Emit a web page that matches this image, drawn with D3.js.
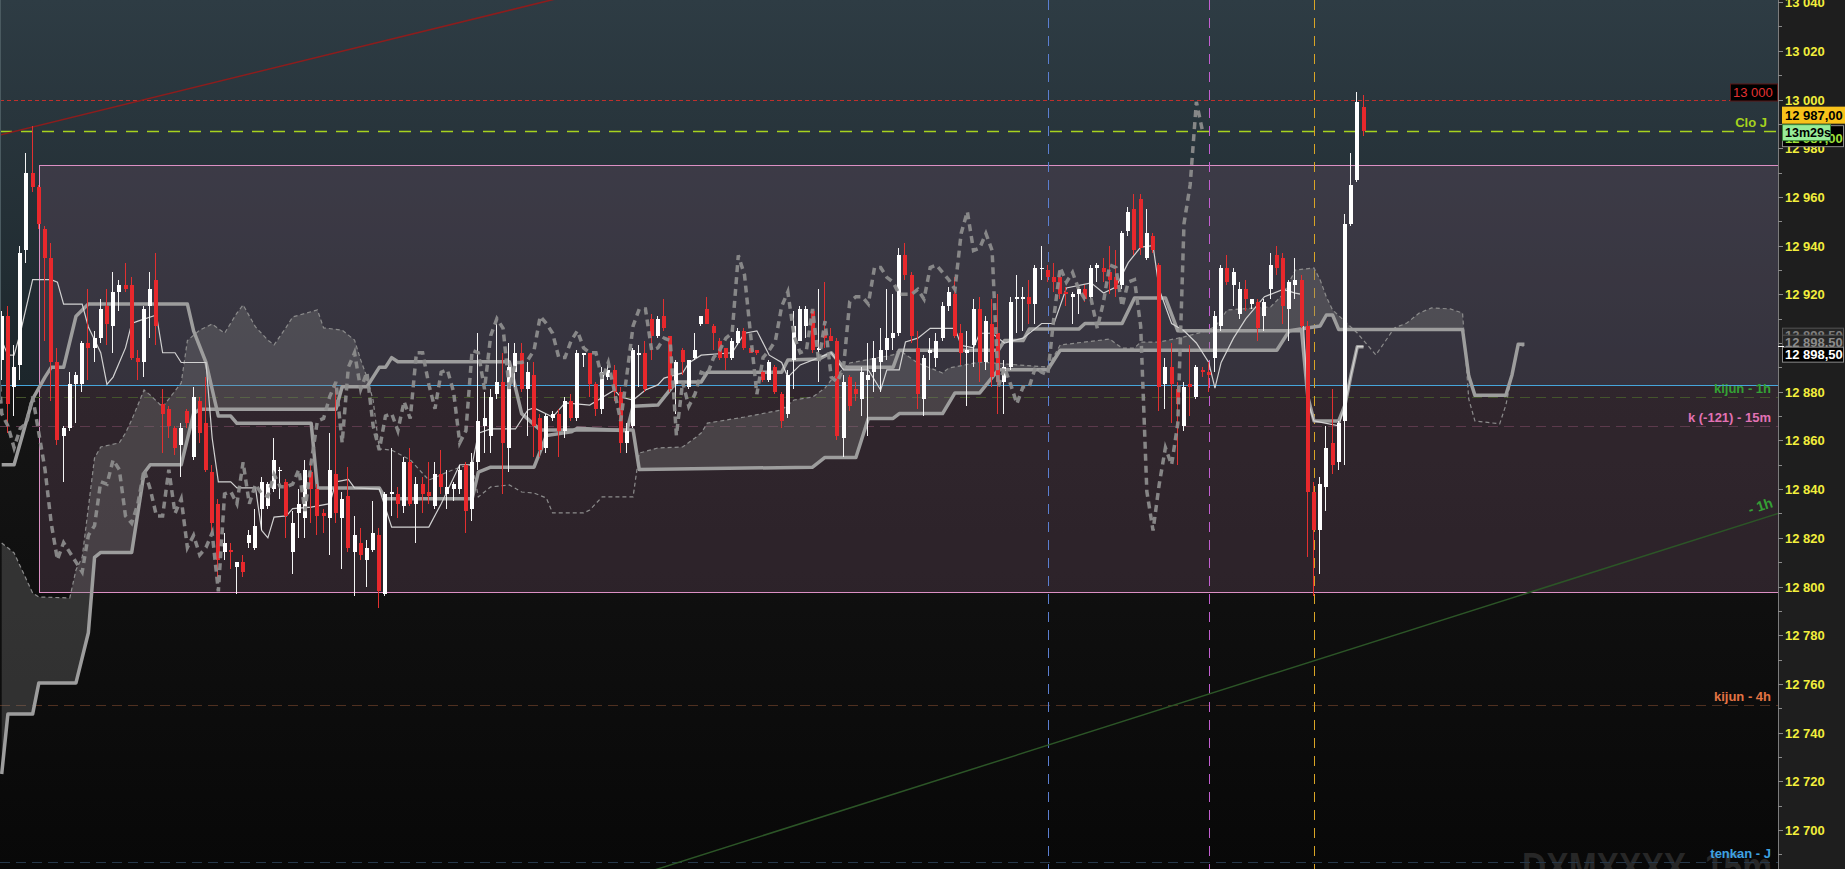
<!DOCTYPE html>
<html><head><meta charset="utf-8">
<script src="https://cdn.jsdelivr.net/npm/d3@7"></script>
<style>
html,body{margin:0;padding:0;background:#0a0a0a;overflow:hidden}
svg{display:block}
text{font-family:"Liberation Sans",Arial,sans-serif}
</style></head><body>
<svg id="c" width="1845" height="869"></svg>
<script>
// ---------------- DATA ----------------
const opens = [
12893,12911,12882,12891,12938,12970,12964,12947,12935,12892,
12862,12865,12883,12883,12900,12898,12902,12915,12907,12921,
12924,12924,12894,12892,12915,12926,12875,12873,12865,12858,
12872,12853,12876,12867,12847,12834,12814,12815,12808,12810,
12818,12816,12832,12833,12840,12848,12843,12814,12830,12828,
12847,12840,12830,12828,12846,12828,12837,12814,12818,12811,
12815,12821,12797,12838,12838,12833,12851,12834,12842,12839,
12833,12846,12838,12840,12840,12850,12832,12851,12866,12862,
12879,12884,12857,12888,12896,12881,12887,12869,12857,12869,
12871,12864,12876,12869,12895,12896,12883,12873,12886,12889,
12880,12859,12866,12895,12896,12910,12903,12911,12903,12883,
12897,12882,12894,12908,12914,12907,12901,12898,12894,12900,
12905,12898,12897,12888,12885,12890,12879,12871,12893,12901,
12907,12913,12897,12905,12903,12901,12861,12886,12881,12877,
12885,12888,12892,12897,12902,12904,12936,12928,12898,12877,
12896,12894,12902,12915,12920,12904,12896,12899,12914,12892,
12908,12904,12884,12890,12918,12918,12919,12916,12931,12930,
12927,12927,12921,12919,12920,12922,12919,12931,12931,12929,
12927,12924,12946,12955,12959,12935,12944,12932,12883,12890,
12881,12866,12883,12878,12889,12888,12894,12907,12931,12924,
12912,12922,12916,12917,12911,12922,12936,12935,12914,12924,
12926,12907,12839,12823,12841,12859,12851,12868,12949,12967,12997];
const highs = [
12913,12915,12899,12940,12978,12989,12965,12948,12941,12898,
12866,12888,12888,12901,12922,12905,12918,12922,12929,12926,
12933,12927,12897,12915,12929,12937,12881,12874,12866,12867,
12873,12882,12878,12886,12850,12836,12822,12818,12810,12813,
12823,12832,12845,12843,12861,12849,12844,12831,12840,12852,
12852,12842,12832,12863,12882,12839,12849,12829,12824,12819,
12835,12824,12839,12857,12841,12853,12857,12845,12845,12851,
12851,12856,12848,12843,12850,12851,12855,12904,12880,12881,
12908,12896,12900,12900,12900,12892,12892,12871,12871,12872,
12873,12878,12879,12897,12896,12896,12884,12890,12891,12891,
12882,12867,12898,12899,12901,12912,12911,12918,12903,12893,
12898,12893,12904,12911,12919,12908,12902,12898,12902,12906,
12906,12898,12897,12889,12893,12891,12880,12889,12913,12915,
12915,12914,12922,12925,12906,12902,12887,12887,12884,12890,
12900,12901,12906,12922,12920,12939,12941,12929,12905,12895,
12902,12904,12917,12923,12927,12908,12905,12918,12919,12911,
12918,12920,12893,12919,12928,12923,12926,12932,12940,12932,
12933,12930,12923,12921,12923,12924,12932,12933,12935,12940,
12938,12946,12956,12961,12961,12955,12945,12933,12894,12900,
12884,12884,12899,12891,12890,12892,12913,12932,12936,12931,
12925,12926,12918,12918,12918,12937,12940,12937,12926,12935,
12928,12909,12843,12845,12866,12881,12868,12953,12978,13003,13002];
const lows = [
12885,12863,12870,12885,12933,12962,12947,12901,12876,12858,
12843,12864,12867,12880,12885,12892,12900,12899,12896,12913,
12921,12893,12885,12886,12902,12899,12855,12861,12854,12845,
12865,12852,12859,12847,12822,12804,12811,12807,12797,12804,
12816,12815,12823,12832,12839,12836,12820,12805,12820,12820,
12826,12821,12822,12813,12826,12807,12814,12796,12811,12800,
12814,12791,12796,12829,12828,12830,12833,12818,12830,12834,
12832,12838,12832,12835,12838,12822,12827,12848,12855,12855,
12877,12838,12847,12882,12880,12862,12853,12853,12855,12868,
12853,12861,12868,12868,12890,12878,12870,12871,12885,12876,
12855,12855,12865,12882,12880,12893,12902,12905,12880,12871,
12887,12881,12893,12907,12908,12897,12893,12889,12893,12899,
12897,12896,12895,12884,12884,12879,12865,12869,12881,12901,
12902,12896,12884,12898,12901,12860,12853,12872,12876,12870,
12862,12880,12880,12893,12897,12903,12926,12900,12873,12870,
12885,12890,12901,12913,12902,12891,12874,12890,12884,12889,
12882,12871,12871,12889,12904,12905,12908,12908,12926,12925,
12921,12918,12915,12908,12912,12917,12918,12925,12925,12920,
12919,12922,12944,12936,12936,12934,12937,12872,12873,12867,
12850,12864,12870,12877,12886,12880,12888,12905,12924,12915,
12910,12913,12914,12901,12905,12918,12928,12908,12901,12918,
12906,12812,12796,12805,12831,12846,12848,12850,12948,12966,12985];
const closes = [
12911,12875,12890,12937,12970,12964,12949,12935,12892,12860,
12865,12883,12887,12900,12898,12902,12914,12908,12921,12924,
12922,12894,12892,12914,12922,12907,12871,12866,12857,12865,
12867,12878,12863,12848,12826,12811,12818,12814,12810,12806,
12821,12825,12843,12842,12852,12848,12829,12826,12834,12848,
12840,12829,12829,12848,12830,12836,12816,12821,12813,12816,
12822,12798,12838,12839,12834,12851,12834,12842,12838,12837,
12846,12841,12841,12842,12848,12831,12851,12868,12869,12878,
12884,12859,12890,12896,12881,12888,12866,12856,12870,12871,
12864,12876,12869,12896,12896,12883,12873,12888,12889,12880,
12859,12864,12897,12896,12881,12903,12910,12906,12881,12892,
12892,12893,12897,12911,12908,12904,12894,12894,12901,12905,
12898,12896,12896,12885,12892,12880,12868,12887,12907,12914,
12914,12897,12898,12902,12901,12862,12884,12874,12879,12888,
12887,12894,12897,12902,12904,12936,12928,12903,12879,12894,
12897,12901,12915,12921,12903,12896,12897,12914,12892,12909,
12886,12884,12890,12917,12919,12919,12916,12931,12931,12927,
12925,12920,12920,12920,12922,12918,12931,12932,12929,12926,
12922,12945,12954,12938,12939,12945,12938,12882,12890,12883,
12875,12882,12882,12890,12888,12887,12911,12931,12925,12929,
12922,12918,12918,12906,12917,12932,12931,12915,12925,12926,
12907,12839,12823,12842,12857,12850,12867,12949,12965,12999,12987];

// Ichimoku lines: [candle index, price]
const tenkanPts = [[0,12901],[1,12895],[2,12895],[3,12904],[5,12926],[8,12926],[9,12925],[10,12916],[13,12916],[14,12906.6],[16,12896],[17,12883],[18,12886],[20,12898],[21,12908],[22,12909],[25,12911.5],[26,12896],[28,12896],[29,12892],[33,12892],[34,12861],[35,12843],[37,12843],[38,12840.5],[41,12840.5],[42,12823],[43,12820],[44,12828.5],[46,12829],[47,12832],[50,12832.6],[53,12834],[54,12843],[56,12844],[57,12840.5],[61,12840],[63,12824.4],[69,12824.4],[71,12834],[74,12850],[76,12850],[77,12863],[79,12864.7],[83,12864.7],[85,12872.5],[86,12873.3],[89,12869.6],[91,12875.4],[95,12874.5],[99,12880.7],[100,12877.8],[102,12876.6],[104,12880.7],[106,12882.8],[107,12885.6],[110,12887.7],[111,12891.8],[113,12895],[118,12896],[120,12904],[122,12905],[124,12895],[126,12892],[127,12886],[129,12891],[132,12894],[134,12896],[136,12889],[140,12889],[142,12880.7],[143,12889],[145,12889],[146,12900.4],[148,12902],[150,12906],[154,12906],[155,12899],[157,12898],[158,12904],[160,12904],[162,12900],[165,12902],[168,12908],[170,12908],[172,12922.6],[176,12924.7],[178,12920.5],[180,12923],[182,12933],[184,12939.4],[186,12940],[187,12922],[189,12908],[191,12905],[193,12900],[195,12892],[196,12881.5],[197,12892],[199,12902],[201,12910],[204,12919],[207,12922],[209,12920.5],[210,12920],[211,12876],[212,12868],[216,12866],[217,12874.5],[218,12887],[219,12898.5],[220,12898.5]];
const kijunPts = [[0,12850],[2,12850],[4,12868],[5,12877],[7,12886],[8,12890],[10,12890],[12,12911],[14,12916],[30,12916],[31,12905],[33,12892],[35,12870],[37,12870],[38,12867],[50,12867],[51,12840.5],[61,12840.5],[62,12836],[76,12836],[77,12847],[79,12849],[86,12849],[88,12862],[92,12863.5],[93,12865],[101,12864],[102,12874],[106,12874.5],[109,12884],[113,12884],[114,12888],[126,12888],[127,12893],[132,12893.4],[134,12896],[136,12890],[144,12890],[145,12897],[161,12897],[162,12901],[165,12901],[166,12905.7],[174,12905.7],[175,12908],[181,12908],[183,12918.5],[188,12918.5],[190,12905],[210,12905],[211,12878],[212,12868],[216,12868],[217,12874.5],[218,12887],[219,12898.5],[220,12898.5]];
const spanAPts = [[0,12817.9],[2,12813.8],[5,12797.3],[6,12795.7],[11,12795.3],[12,12806.8],[13,12812],[15,12852.8],[16,12857.3],[19,12859],[20,12863],[21,12868.4],[23,12880.7],[24,12878.6],[26,12873.7],[29,12883.6],[30,12901],[32,12905.3],[34,12907.8],[36,12904],[38,12912.3],[39,12915.6],[41,12906.6],[43,12901.2],[44,12899.2],[46,12906.6],[47,12910.7],[51,12913.6],[52,12906.2],[55,12905.3],[57,12901.2],[58,12893],[59,12886],[60,12876.5],[61,12856.5],[63,12856],[66,12852],[69,12843.7],[72,12847],[74,12849],[76,12850],[77,12836.8],[79,12840.9],[82,12841.7],[84,12838.8],[86,12838.4],[88,12836.3],[89,12830.2],[94,12830.2],[95,12831.4],[97,12836.8],[102,12836.8],[103,12854.8],[106,12856.9],[110,12857.3],[112,12861],[113,12863],[114,12867.1],[120,12869.6],[126,12872.5],[128,12876.6],[131,12877.8],[133,12881.5],[134,12884.8],[137,12891.8],[144,12895.1],[145,12897.1],[148,12891.8],[152,12887.7],[153,12889.7],[158,12892.2],[169,12890.1],[171,12899.2],[179,12901.6],[181,12897.9],[183,12897.9],[184,12900.4],[187,12900.4],[191,12902.5],[194,12904.5],[196,12906.6],[198,12913.6],[205,12914.8],[207,12920],[209,12930],[212,12930.8],[213,12925.9],[214,12918.9],[215,12913.6],[219,12904.1],[222,12895.1],[225,12906.2],[227,12908.2],[229,12912.3],[231,12914.4],[234,12914],[236,12912.3],[237,12877],[238,12868],[242,12866.8],[243,12874.5],[244,12887],[245,12899.5],[246,12898.5]];
const spanBPts = [[0,12723],[1,12747.6],[5,12747.6],[6,12760.4],[12,12760.4],[14,12781],[15,12812],[16,12814],[21,12814],[23,12846.6],[24,12850],[29,12850],[31,12871],[32,12872.8],[54,12872.8],[55,12882],[59,12882],[61,12890],[62,12890],[63,12894],[64,12892.3],[82,12892.3],[84,12871],[87,12864.3],[102,12864.3],[103,12848],[131,12849],[133,12853],[138,12853],[140,12869],[144,12869],[145,12871],[152,12871],[154,12879.5],[158,12879.5],[161,12889],[169,12889],[171,12897],[206,12897],[208,12905],[213,12907],[214,12911.5],[215,12911.5],[216,12905.5],[236,12905.5],[237,12886.5],[238,12878.5],[243,12878.5],[244,12887],[245,12899.5],[246,12899.5]];
const chikouShift = 26;

// horizontal levels and labels
const levelPrices = [13000, 12986.9, 12882.75, 12877.8, 12866, 12751.5, 12686.9];
const levelLabels = ["", "Clo J", "", "kijun - 1h", "k (-121) - 15m", "kijun - 4h", "tenkan - J"];
const boxRange = {start: 6, top: 12973, bottom: 12797.7};
const vlineIdx = [169, 195, 212];
const redTrend = [[0, 12985.6], [89, 13041]];
const greenTrend = [[106, 12684], [287, 12830]];
const axisTicks = d3.range(12690, 13041, 10);
const lastPrice = 12987.00, kijunLast = 12898.50, roundLevel = 13000, timer = "13m29s";

// ---------------- DRAWING ----------------
const W = 1845, H = 869, plotR = 1778;
const x = d3.scaleLinear().domain([0, 220]).range([1.7, 1363.5]);
const y = d3.scaleLinear().domain([12700, 13040]).range([830, 2.1]);
const svg = d3.select('#c');
const defs = svg.append('defs');
function grad(id, c1, c2){
  const g = defs.append('linearGradient').attr('id', id).attr('x1',0).attr('y1',0).attr('x2',0).attr('y2',1);
  g.append('stop').attr('offset','0%').attr('stop-color',c1);
  g.append('stop').attr('offset','100%').attr('stop-color',c2);
}
grad('bgTop', '#2e3c44', '#1c262b');
grad('bgBot', '#151515', '#080808');
defs.append('clipPath').attr('id','plotClip').append('rect').attr('x',0).attr('y',0).attr('width',plotR).attr('height',H);

const yBlue = y(levelPrices[2]);
const g = svg.append('g').attr('clip-path','url(#plotClip)');
g.append('rect').attr('x',0).attr('y',0).attr('width',plotR).attr('height',yBlue).attr('fill','url(#bgTop)');
g.append('rect').attr('x',0).attr('y',yBlue).attr('width',plotR).attr('height',H-yBlue).attr('fill','url(#bgBot)');

// pink box zone
const bx = Math.round(x(boxRange.start))+0.5, byT = Math.round(y(boxRange.top))+0.5, byB = Math.round(y(boxRange.bottom))+0.5;
g.append('rect').attr('x',bx).attr('y',byT).attr('width',plotR-bx+2).attr('height',byB-byT)
  .attr('fill','rgba(112,80,104,0.30)').attr('stroke','#dc90c4').attr('stroke-width',1);

// watermark
g.append('text').attr('x',1522).attr('y',881).attr('font-size',40).attr('font-weight','bold')
  .attr('fill','#272727').attr('textLength',250).attr('lengthAdjust','spacingAndGlyphs').text('DXMXXXX. 15m');

// horizontal levels
const levelStyle = [
  {c:'#c0302c', d:'4,3', w:1},
  {c:'#a6d21e', d:'12,9', w:1.5},
  {c:'#46a6dc', d:null, w:1},
  {c:'#44542c', d:'10,6', w:1},
  {c:'#5c3a4c', d:'10,6', w:1},
  {c:'#4f3020', d:'10,6', w:1},
  {c:'#26384a', d:'10,6', w:1}
];
levelPrices.forEach((p,k)=>{
  const yy = Math.round(y(p))+0.5;
  g.append('line').attr('x1',0).attr('x2',plotR).attr('y1',yy).attr('y2',yy)
   .attr('stroke',levelStyle[k].c).attr('stroke-width',levelStyle[k].w)
   .attr('stroke-dasharray',levelStyle[k].d);
});

// vertical dashed lines
const vcol = ['#5b7fd0','#c25fd0','#d9a526'];
vlineIdx.forEach((i,k)=>{
  const xx = Math.round(x(i))+0.5;
  g.append('line').attr('x1',xx).attr('x2',xx).attr('y1',0).attr('y2',H)
   .attr('stroke',vcol[k]).attr('stroke-width',1).attr('stroke-dasharray','10,8');
});

// trend lines (extended through the plot)
function trend(pts, col, w){
  const [a,b] = pts; const s = (b[1]-a[1])/(b[0]-a[0]);
  const i0 = -5, i1 = 300;
  g.append('line').attr('x1',x(i0)).attr('y1',y(a[1]+s*(i0-a[0]))).attr('x2',x(i1)).attr('y2',y(a[1]+s*(i1-a[0])))
   .attr('stroke',col).attr('stroke-width',w);
}
trend(redTrend, '#8c1d1d', 1.6);
trend(greenTrend, '#2c5527', 1.5);

// cloud
const lineGen = d3.line().x(d=>x(d[0])).y(d=>y(d[1]));
const clipAbove = spanBPts.map(d=>[x(d[0]),y(d[1])]);
clipAbove.push([x(spanBPts[spanBPts.length-1][0]), -10],[x(spanBPts[0][0])-10, -10],[x(spanBPts[0][0])-10, y(spanBPts[0][1])]);
defs.append('clipPath').attr('id','cloudClip').append('path').attr('d','M'+clipAbove.map(p=>p.join(',')).join('L')+'Z');
const poly = spanAPts.map(d=>[x(d[0]),y(d[1])]).concat(spanBPts.slice().reverse().map(d=>[x(d[0]),y(d[1])]));
g.append('path').attr('d','M'+poly.map(p=>p.join(',')).join('L')+'Z')
  .attr('fill','rgba(128,128,128,0.32)').attr('clip-path','url(#cloudClip)');

g.append('path').attr('d',lineGen(spanAPts)).attr('fill','none').attr('stroke','#8c8c8c').attr('stroke-width',1.2).attr('stroke-dasharray','4,3');
g.append('path').attr('d',lineGen(spanBPts)).attr('fill','none').attr('stroke','#9d9d9d').attr('stroke-width',3.5).attr('stroke-linejoin','round');
g.append('path').attr('d',lineGen(kijunPts)).attr('fill','none').attr('stroke','#9d9d9d').attr('stroke-width',3.5).attr('stroke-linejoin','round');
g.append('path').attr('d',lineGen(tenkanPts)).attr('fill','none').attr('stroke','#d2d2d2').attr('stroke-width',1.2);

// candles
const cg = g.append('g').attr('shape-rendering','crispEdges');
closes.forEach((c,i)=>{
  const o = opens[i], h = highs[i], l = lows[i];
  const up = c >= o;
  const xc = Math.round(x(i));
  const col = up ? '#ffffff' : '#e8282c';
  cg.append('rect').attr('x',xc-1).attr('y',y(h)).attr('width',1).attr('height',Math.max(1,y(l)-y(h))).attr('fill', up ? '#f4f4f4' : '#e23030');
  const top = y(Math.max(o,c)), bot = y(Math.min(o,c));
  cg.append('rect').attr('x',xc-2).attr('y',top).attr('width',4).attr('height',Math.max(1.5,bot-top)).attr('fill',col);
});

// chikou (closes shifted back)
const chikou = closes.map((c,i)=>[i-chikouShift, c]).filter(d=>d[0] >= -2);
g.append('path').attr('d',lineGen(chikou)).attr('fill','none').attr('stroke','#8e8e8e').attr('stroke-width',3.5)
  .attr('stroke-dasharray','7,5').attr('opacity',0.92);

// level labels
const labCol = ['', '#a6d21e', '', '#34a234', '#e272b4', '#e27444', '#3ea2e2'];
levelPrices.forEach((p,k)=>{
  if(!levelLabels[k]) return;
  g.append('text').attr('x', k===1 ? 1767 : 1771).attr('y', y(p)-4).attr('text-anchor','end')
   .attr('font-size',13).attr('font-weight','bold').attr('fill',labCol[k]).text(levelLabels[k]);
});
// "- 1h" label on the green trend line
{
  const s = (greenTrend[1][1]-greenTrend[0][1])/(greenTrend[1][0]-greenTrend[0][0]);
  const ix = (1750-1.7)/((1363.5-1.7)/220);
  const px = 1750, py = y(greenTrend[0][1]+s*(ix-greenTrend[0][0])) - 8;
  const ang = Math.atan2(y(greenTrend[1][1])-y(greenTrend[0][1]), x(greenTrend[1][0])-x(greenTrend[0][0]))*180/Math.PI;
  g.append('text').attr('transform',`translate(${px},${py}) rotate(${ang})`).attr('font-size',14).attr('font-weight','bold')
   .attr('fill','#35a035').text('- 1h');
}
// round level label
{
  const yy = y(roundLevel);
  svg.append('rect').attr('x',1730.5).attr('y',yy-15.5).attr('width',47).attr('height',17).attr('fill','#000').attr('stroke','#5a1616');
  svg.append('text').attr('x',1733).attr('y',yy-2.5).attr('font-size',13).attr('fill','#e43232').text('13 000');
}
// plot left edge
svg.append('line').attr('x1',0.5).attr('x2',0.5).attr('y1',0).attr('y2',400).attr('stroke','#4a5a60').attr('stroke-width',1);

// ---------------- AXIS ----------------
svg.append('rect').attr('x',plotR).attr('y',0).attr('width',W-plotR).attr('height',H).attr('fill','#1e1e1e');
svg.append('line').attr('x1',plotR+0.5).attr('x2',plotR+0.5).attr('y1',0).attr('y2',H).attr('stroke','#7c7c7c');
const fmt = p => { const s = String(Math.round(p)); return s.slice(0,2)+' '+s.slice(2); };
axisTicks.forEach(p=>{
  const yy = Math.round(y(p))+0.5;
  const major = p % 20 === 0;
  svg.append('line').attr('x1',plotR).attr('x2',plotR+(major?5:4)).attr('y1',yy).attr('y2',yy).attr('stroke','#8a8a8a');
  if(major) svg.append('text').attr('x',1785).attr('y',yy).attr('dy','0.36em').attr('font-size',13).attr('font-weight','bold')
     .attr('fill','#f2ee3c').text(fmt(p));
});
// kijun value labels
{
  const yk = y(kijunLast);
  const t = d3.format(',.2f')(kijunLast).replace(',', ' ').replace('.', ',');
  [[-18,'#7e7e7e'],[-11,'#8c8c8c']].forEach(([off,c])=>{
    svg.append('rect').attr('x',1782.5).attr('y',yk+off-0.5).attr('width',61).attr('height',14).attr('fill','#262626').attr('stroke','#555');
    svg.append('text').attr('x',1785).attr('y',yk+off+11).attr('font-size',13).attr('font-weight','bold').attr('fill',c).text(t);
  });
  svg.append('rect').attr('x',1782.5).attr('y',yk+0.5).attr('width',61).attr('height',15).attr('fill','#000').attr('stroke','#8a8a8a');
  svg.append('text').attr('x',1785).attr('y',yk+12.5).attr('font-size',13).attr('font-weight','bold').attr('fill','#ffffff').text(t);
  svg.append('line').attr('x1',plotR).attr('x2',plotR+6).attr('y1',Math.round(yk)-0.5).attr('y2',Math.round(yk)-0.5).attr('stroke','#ffffff');
}
// last price labels
{
  const yl = y(lastPrice);
  const t = d3.format(',.2f')(lastPrice).replace(',', ' ').replace('.', ',');
  svg.append('rect').attr('x',1782.5).attr('y',yl-5.5).attr('width',61).attr('height',21).attr('fill','#000').attr('stroke','#8a8a8a');
  svg.append('text').attr('x',1785).attr('y',yl+12).attr('font-size',13).attr('font-weight','bold').attr('fill','#9ee03a').text(t);
  svg.append('rect').attr('x',1782).attr('y',yl-24.5).attr('width',64).attr('height',17).attr('fill','#f8c21a');
  svg.append('text').attr('x',1785).attr('y',yl-11.5).attr('font-size',13).attr('font-weight','bold').attr('fill','#000').text(t);
  svg.append('rect').attr('x',1782.5).attr('y',yl-6.5).attr('width',48).attr('height',16).attr('fill','#98ec98').attr('stroke','#3c8a3c');
  svg.append('text').attr('x',1785).attr('y',yl+6).attr('font-size',12.5).attr('font-weight','bold').attr('fill','#000').text(timer);
}
</script>
</body></html>
